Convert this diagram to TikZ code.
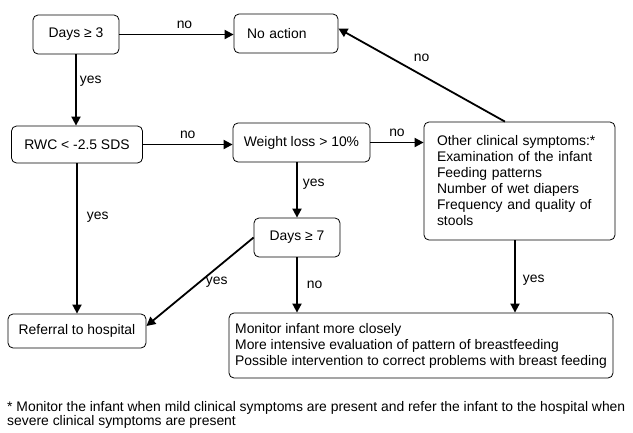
\documentclass[tikz,border=0pt]{standalone}
\usepackage{fontspec}
\setmainfont{Liberation Sans}
\usepackage{tikz}
\usetikzlibrary{calc,positioning,arrows.meta}
\tikzstyle{box}   = [draw=black, line width=0.8pt, rounded corners=5pt, inner sep=0pt, font=\fontsize{13.9}{16}\selectfont]
\tikzstyle{arrow} = [line width=1.8pt, -{Triangle[length=9pt,width=9pt]}]
\tikzstyle{lbl}   = [inner sep=1pt, font=\fontsize{13.9}{16}\selectfont]

\begin{document}
\begin{tikzpicture}[x=1pt,y=-1pt]
		\useasboundingbox[fill=white] (0,0) rectangle (633,432);

		\node[box, minimum width=86pt, minimum height=39pt] (days3) at (76,34.5) {Days ≥ 3};
		\node[box, minimum width=104pt, minimum height=39pt, text width=78pt, align=left] (noaction) at (286,33.5) {No action};
		\node[box, minimum width=131pt, minimum height=37pt] (rwc) at (77,144.5) {RWC < -2.5 SDS};
		\node[box, minimum width=137pt, minimum height=39pt] (wloss) at (301.5,142.5) {Weight loss > 10\%};
		\node[box, minimum width=191pt, minimum height=118pt, text width=165pt, align=left] (other) at (519.5,181) {Other clinical symptoms:*\\Examination of the infant\\Feeding patterns\\Number of wet diapers\\Frequency and quality of\\stools};
		\node[box, minimum width=86pt, minimum height=39pt] (days7) at (297,237.5) {Days ≥ 7};
		\node[box, minimum width=138pt, minimum height=34pt] (referral) at (77,331) {Referral to hospital};
		\node[box, minimum width=384pt, minimum height=65pt, align=left] (monitor) at (421,345.5) {Monitor infant more closely\\More intensive evaluation of pattern of breastfeeding\\Possible intervention to correct problems with breast feeding};

		\node[lbl, anchor=west, align=left, font=\fontsize{13.9}{14.5}\selectfont] (note) at (6,415) {* Monitor the infant when mild clinical symptoms are present and refer the infant to the hospital when\\severe clinical symptoms are present};

		\draw[arrow] (days3.east) -- node[lbl, pos=0.57, above=4pt] {no} (days3.east -| noaction.west);
		\draw[arrow] (days3.south) -- node[lbl, pos=0.38, right=2pt] {yes} (days3.south |- rwc.north);
		\draw[arrow] (rwc.east) -- node[lbl, midway, above=4pt] {no} (rwc.east -| wloss.west);
		\draw[arrow] (wloss.east) -- node[lbl, midway, above=4pt] {no} (wloss.east -| other.west);
		\draw[arrow] ($(other.north west)!0.424!(other.north east)$) -- node[lbl, midway, above=12pt] {no} ([yshift=5pt]noaction.east);
		\draw[arrow] (days7.north |- wloss.south) -- node[lbl, pos=0.4, right=4pt] {yes} (days7.north);
		\draw[arrow] (rwc.south) -- node[lbl, pos=0.36, right=8pt] {yes} (rwc.south |- referral.north);
		\draw[arrow] (days7.west) -- node[lbl, pos=0.5, right=4pt] {yes} ([yshift=5pt]referral.east);
		\draw[arrow] (days7.south) -- node[lbl, midway, right=8pt] {no} (days7.south |- monitor.north);
		\draw[arrow] ([xshift=-4.5pt]other.south) -- node[lbl, pos=0.55, right=6pt] {yes} ([xshift=-4.5pt]other.south |- monitor.north);
	\end{tikzpicture}
\end{document}
